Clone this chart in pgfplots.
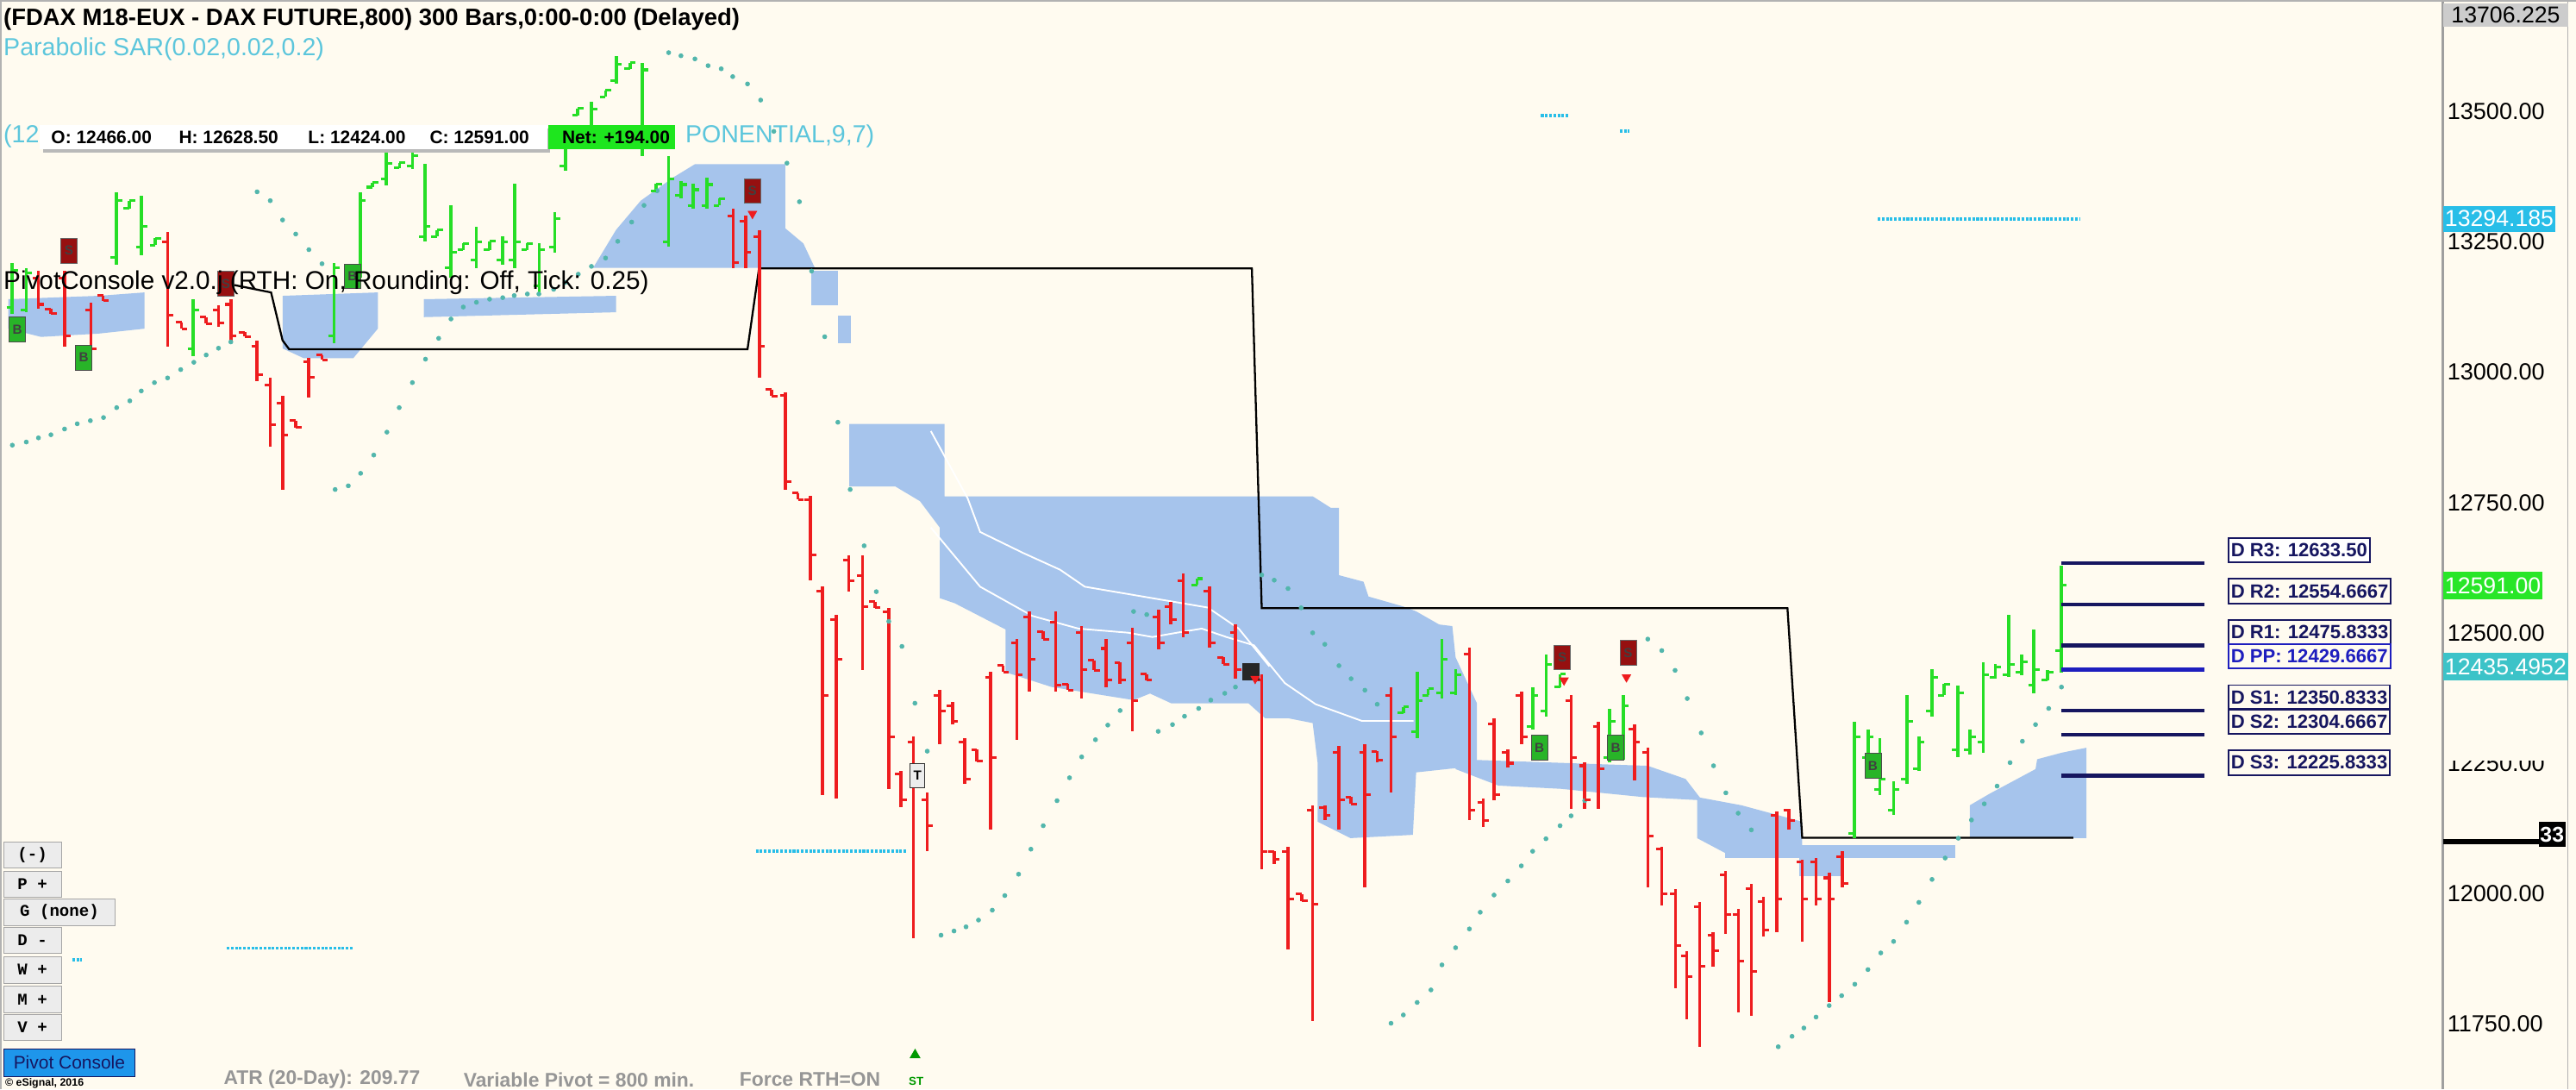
\documentclass[border=0pt]{standalone}
\usepackage{pgfplots}
\pgfplotsset{compat=1.18}
\usepackage{pgfplotstable}
\usepackage{fontspec}
\setmainfont{Liberation Sans}
\setmonofont{Liberation Mono}

\definecolor{bgc}{RGB}{255,251,240}
\definecolor{cloud}{RGB}{166,196,236}
\definecolor{barred}{RGB}{238,28,30}
\definecolor{bargreen}{RGB}{38,222,38}
\definecolor{sardot}{RGB}{82,182,172}
\definecolor{cyanseg}{RGB}{40,190,232}
\definecolor{navyl}{RGB}{22,22,96}
\definecolor{ppblue}{RGB}{30,30,190}
\definecolor{hdrcyan}{RGB}{92,198,220}
\definecolor{sred}{RGB}{150,16,16}
\definecolor{bgreen}{RGB}{40,180,40}
\definecolor{btn}{RGB}{236,236,236}
\definecolor{atrgray}{RGB}{150,150,150}
\definecolor{netgreen}{RGB}{30,230,30}
\definecolor{lblgreen}{RGB}{40,230,40}
\definecolor{lblteal}{RGB}{60,195,200}
\definecolor{pcblue}{RGB}{30,150,235}

\pgfdeclareplotmark{otick}{\pgfpathmoveto{\pgfqpoint{-3.5pt}{0pt}}\pgfpathlineto{\pgfqpoint{0pt}{0pt}}\pgfusepathqstroke}
\pgfdeclareplotmark{ctick}{\pgfpathmoveto{\pgfqpoint{0pt}{0pt}}\pgfpathlineto{\pgfqpoint{3.5pt}{0pt}}\pgfusepathqstroke}

\pgfplotstableread{
x h l o c
7.5 13210 13112 13125 13195
16 13200 13115 13120 13190
70.8 13345 13206 13220 13330
78.7 13329 13314 13314 13329
86.2 13339 13225 13240 13280
94.6 13257 13244 13244 13257
117.7 13140 13030 13045 13120
203.3 13210 13055 13070 13200
219.2 13345 13181 13190 13330
226.7 13364 13355 13355 13364
235.2 13424 13358 13370 13400
243.2 13402 13392 13392 13402
251 13424 13389 13395 13415
258.6 13399 13251 13260 13280
266 13273 13260 13260 13273
274.5 13320 13181 13200 13230
282 13247 13235 13235 13247
290 13279 13200 13215 13250
298 13251 13235 13235 13251
305.8 13260 13206 13215 13250
313.3 13361 13200 13215 13250
320.8 13247 13235 13235 13247
328.3 13247 13153 13165 13235
337.6 13307 13229 13240 13295
344.2 13462 13386 13395 13450
351.7 13506 13493 13493 13506
360 13519 13430 13440 13505
368.6 13541 13528 13528 13541
375.1 13607 13553 13560 13590
383.5 13594 13582 13582 13594
391 13594 13414 13430 13580
399.5 13361 13348 13348 13361
407 13414 13241 13250 13370
414.5 13367 13333 13340 13360
422 13361 13314 13320 13350
430.4 13373 13314 13320 13360
437.9 13333 13320 13320 13333
728.7 12604 12592 12592 12604
854.2 12358 12346 12346 12358
862.6 12425 12298 12310 12370
869.3 12393 12380 12380 12393
877.7 12488 12374 12385 12450
886 12431 12380 12385 12420
932.9 12396 12314 12320 12380
941.2 12459 12339 12350 12440
949.6 12421 12396 12396 12421
979.7 12355 12251 12260 12330
988 12380 12257 12265 12360
1128.7 12330 12106 12115 12300
1137 12314 12242 12260 12300
1144.3 12298 12188 12200 12220
1152.7 12216 12150 12160 12200
1160.7 12380 12210 12220 12330
1168 12302 12235 12240 12290
1176 12431 12339 12350 12415
1183.3 12402 12380 12380 12402
1191.7 12399 12261 12275 12385
1199 12314 12267 12275 12300
1207.3 12443 12270 12290 12420
1214.6 12440 12412 12415 12435
1222.6 12535 12415 12420 12440
1230.6 12459 12418 12425 12445
1238 12507 12384 12400 12430
1246.3 12428 12409 12410 12425
1254.6 12628.5 12424 12466 12591
}\greenbars

\pgfplotstableread{
x h l o c
23.4 13194 13121 13180 13130
31 13121 13112 13121 13112
39.3 13194 13049 13180 13070
55.3 13134 13033 13120 13045
62.8 13147 13137 13147 13137
102 13269 13049 13250 13110
110.5 13096 13083 13096 13083
125.5 13106 13093 13106 13093
133 13128 13087 13120 13095
140.5 13140 13061 13130 13070
149 13077 13068 13077 13068
156.5 13061 12983 13050 12995
164.5 12989 12857 12975 12900
172 12954 12775 12940 12880
180 12907 12894 12907 12894
188 13027 12951 13020 12990
196 13033 13024 13033 13024
446.3 13314 13200 13300 13210
453.8 13301 13200 13290 13230
462.2 13273 12989 13260 13050
469.7 12967 12954 12967 12954
478.2 12961 12775 12955 12790
485.7 12768 12756 12768 12756
493.2 12762 12601 12755 12650
500.7 12589 12188 12580 12380
509.1 12535 12182 12525 12450
516.6 12648 12579 12640 12600
525 12648 12428 12610 12550
532.5 12560 12548 12560 12548
541 12548 12201 12540 12300
548.4 12235 12166 12230 12180
555.9 12302 11914 12290 12240
564.4 12194 12081 12180 12130
572 12390 12286 12380 12350
579.7 12368 12324 12360 12330
587.2 12298 12210 12290 12220
594.7 12276 12254 12276 12254
603.1 12425 12122 12415 12260
610.6 12437 12425 12437 12425
619 12488 12295 12480 12420
626.6 12541 12387 12530 12450
635 12503 12488 12503 12488
642.5 12541 12387 12520 12400
650 12402 12390 12402 12390
658.4 12513 12374 12500 12430
665.9 12447 12428 12447 12428
673.4 12488 12396 12470 12410
681.8 12443 12402 12443 12410
689.3 12510 12311 12480 12370
697.8 12421 12409 12421 12409
705.3 12544 12469 12530 12480
712.7 12560 12516 12550 12525
720.2 12614 12491 12600 12500
736.2 12589 12472 12580 12480
744.6 12453 12440 12453 12440
752.1 12516 12412 12500 12430
768 12421 12046 12410 12080
775.5 12081 12056 12081 12065
784 12090 11892 12080 11990
792.4 11999 11986 11999 11986
799 12169 11756 12160 11980
806.4 12169 12141 12165 12150
814.9 12283 12122 12270 12180
822.4 12185 12172 12185 12172
830.8 12286 12012 12270 12190
838.3 12273 12251 12273 12255
846.7 12396 12194 12380 12300
894.4 12472 12141 12460 12160
902.8 12182 12128 12175 12140
909.4 12336 12179 12325 12190
917.8 12276 12242 12270 12250
926.2 12387 12286 12380 12300
956.3 12380 12163 12370 12260
964.6 12251 12163 12245 12180
973 12330 12163 12320 12240
994.8 12324 12217 12315 12290
1003.1 12280 12012 12270 12110
1011.5 12090 11977 12085 12000
1019.9 12008 11819 12000 11900
1026.6 11889 11759 11880 11840
1034.6 11983 11706 11975 11860
1042.8 11926 11860 11920 11890
1050.4 12043 11923 12035 11960
1058.1 11971 11772 11960 11870
1066.1 12018 11766 12010 11850
1073.4 11993 11917 11985 11930
1081.4 12157 11926 12150 11990
1089 12163 12122 12160 12140
1097 12065 11908 12060 11990
1105.4 12068 11977 12060 11990
1113.4 12040 11791 12030 11990
1121.4 12081 12012 12070 12020
}\redbars

\pgfplotstableread{
x y
7.5 12860
16 12866
23.4 12874
31 12880
39.3 12891
47 12901
55 12907
63 12913
71 12932
79 12945
86 12964
94 12980
102 12989
110 13005
118 13019
125.5 13033
133 13046
140.5 13058
156.5 13346
164.5 13329
172 13292
180 13265
188 13235
196 13208
204 12775
212 12782
219.5 12806
227.5 12841
235.5 12885
243 12932
251 12980
259 13025
267 13065
274.5 13102
282 13125
290 13134
298 13140
306 13143
313 13147
321 13150
328 13150
337 13159
344 13172
352 13188
360 13203
368.6 13219
376 13251
384.5 13288
392 13320
400 13348
407 13613
414.5 13607
423 13601
431 13588
439 13582
446 13567
455 13553
463 13522
471 13462
479 13401
486.6 13327
494 13194
502 13068
510 12904
517.5 12775
526 12667
533.4 12579
541 12522
549 12474
556.9 12365
564.4 12273
572.8 11920
580.7 11928
588 11936
595.6 11949
604 11968
611.6 11996
620 12037
627.5 12085
635 12130
643.4 12178
651 12222
658.4 12262
666.8 12295
674.3 12323
681.8 12351
690 12541
698 12535
705 12311
713.7 12324
721 12340
729.6 12355
737 12371
745.5 12384
752 12396
768 12611
775.6 12601
784 12585
792 12548
799 12500
806.4 12478
815 12437
822.4 12412
830.8 12390
838.3 12363
846.7 11751
854.2 11767
862.6 11791
871 11815
877.7 11863
886 11896
894.4 11932
901 11964
909.4 11997
917.8 12024
926 12053
932.9 12081
941 12105
949.6 12130
956.3 12149
964.6 12178
1003 12488
1011.5 12466
1019.6 12428
1027 12374
1035.5 12308
1043 12245
1050.5 12193
1058 12154
1066 12122
1082.4 11706
1090.8 11726
1098 11742
1105.4 11763
1113.4 11785
1121 11804
1129 11826
1137 11854
1144.8 11886
1152.6 11908
1160.5 11945
1168 11983
1176 12027
1184 12068
1192 12106
1200 12141
1207.8 12172
1215.6 12206
1223.5 12251
1231 12292
1239 12324
1247 12355
1254.8 12396
}\sartable

\begin{document}
\begin{tikzpicture}
\useasboundingbox (0,0) rectangle (1568pt,663pt);
\fill[bgc] (0,0) rectangle (1568pt,663pt);
\begin{axis}[
  at={(0,0)}, anchor=south west,
  width=1487pt, height=663pt, scale only axis,
  xmin=0, xmax=1487, ymin=11624, ymax=13714,
  clip=false,
  axis line style={draw=none},
  xtick=\empty,
  ytick={11750,12000,12250,12500,12750,13000,13250,13500},
  yticklabels={11750.00,12000.00,12250.00,12500.00,12750.00,13000.00,13250.00,13500.00},
  yticklabel pos=right,
  major tick length=0pt,
  ytick style={draw=none},
  yticklabel style={anchor=west, inner sep=0pt, xshift=2.5pt, font=\fontsize{14.2}{14.2}\selectfont},
]
% ---- cloud (shaded bands)
\addplot[fill=cloud, draw=none] coordinates {(5,13140) (60,13146.5) (88,13153) (88,13083.5) (60,13074) (25,13067.7) (5,13083.5)};
\addplot[fill=cloud, draw=none] coordinates {(172,13146.5) (230,13153) (230,13083.5) (215,13026.7) (185,13026.7) (172,13045.6)};
\addplot[fill=cloud, draw=none] coordinates {(258,13140) (375,13146.5) (375,13115) (258,13105.6)};
\addplot[fill=cloud, draw=none] coordinates {(361,13200) (375,13273) (390,13329) (410,13374) (423,13399) (478,13399) (478,13276) (489,13247) (496,13200)};
\addplot[fill=cloud, draw=none] coordinates {(494,13194) (510,13194) (510,13127.6) (494,13127.6)};
\addplot[fill=cloud, draw=none] coordinates {(510,13108.7) (518,13108.7) (518,13055) (510,13055)};
\addplot[fill=cloud, draw=none] coordinates {(517,12900.6) (575,12900.6) (575,12761.9) (799,12761.9) (810,12739.9) (815,12739.9) (815,12610.6) (830,12598) (833,12569.6) (854,12550.7) (862,12541.2) (876,12516) (884,12512.9) (886,12453) (899,12364.7) (899,12244.9) (862,12232.3) (860,12112.5) (822,12106.2) (802,12137.7) (802,12251.2) (799,12326.9) (784,12336.3) (770,12336.3) (760,12364.7) (713,12364.7) (700,12383.6) (690,12371) (640,12396.2) (612,12424.6) (612,12506.6) (581,12557) (572,12566.5) (572,12702) (560,12752.5) (545,12780.8) (517,12780.8)};
\addplot[fill=cloud, draw=none] coordinates {(886,12257.5) (1003,12244.9) (1026,12219.7) (1036,12178.7) (1000,12185) (950,12200.8) (912,12207) (886,12238.6)};
\addplot[fill=cloud, draw=none] coordinates {(1033,12185) (1060,12169.2) (1097,12137.7) (1097,12077.8) (1050,12077.8) (1033,12106.2)};
\addplot[fill=cloud, draw=none] coordinates {(1050,12093.6) (1190,12093.6) (1190,12068.3) (1050,12068.3)};
\addplot[fill=cloud, draw=none] coordinates {(1095,12074.6) (1121,12074.6) (1121,12033.7) (1095,12033.7)};
\addplot[fill=cloud, draw=none] coordinates {(1199,12169.2) (1211,12191.3) (1239,12238.6) (1240,12257.5) (1255,12270.1) (1270,12279.6) (1270,12106.2) (1199,12106.2)};
\addplot[white, line width=1pt] coordinates {(566.6,12702) (596.6,12588.5) (628.4,12532.4) (656.5,12508.1) (686.5,12500.3) (701.5,12492) (716.5,12500.3) (731.5,12508.1) (746.5,12492) (763.3,12476) (782.1,12403.5) (800.8,12363.1) (829,12331) (860.4,12331)};
\addplot[white, line width=1pt] coordinates {(566.6,12887) (589,12758.1) (596.6,12693.5) (622.8,12653.2) (645.3,12621) (660.3,12588.5) (735.2,12548.5) (754,12508.1) (772.7,12435.6)};
% ---- pivot step line
\addplot[black, line width=1.2pt] coordinates {(135,13172) (165,13153) (172,13061) (176,13044) (455,13044) (462,13199) (762,13199) (768,12547.5) (1088,12547.5) (1097,12106.8) (1262,12106.8)};
% ---- cyan dotted levels
\addplot[cyanseg, line width=2pt, dash pattern=on 1.6pt off 0.9pt] coordinates {(1143,13294.185) (1266,13294.185)};
\addplot[cyanseg, line width=2pt, dash pattern=on 1.6pt off 0.9pt] coordinates {(938,13491.7) (955,13491.7)};
\addplot[cyanseg, line width=2pt, dash pattern=on 1.6pt off 0.9pt] coordinates {(986,13462) (992,13462)};
\addplot[cyanseg, line width=2pt, dash pattern=on 1.6pt off 0.9pt] coordinates {(460,12081) (552,12081)};
\addplot[cyanseg, line width=2pt, dash pattern=on 1.6pt off 0.9pt] coordinates {(138,11895) (215,11895)};
\addplot[cyanseg, line width=2pt, dash pattern=on 1.6pt off 0.9pt] coordinates {(44,11873) (50,11873)};
% ---- parabolic SAR
\addplot[only marks, mark=*, mark size=1.25pt, sardot] table[x=x,y=y] {\sartable};
% ---- OHLC bars
\addplot[barred, only marks, mark=otick, mark options={line width=1.6pt},
  error bars/.cd, y dir=both, y explicit, error mark=none, error bar style={line width=1.9pt, barred}]
  table[x=x, y=o, y error plus expr=\thisrow{h}-\thisrow{o}, y error minus expr=\thisrow{o}-\thisrow{l}] {\redbars};
\addplot[barred, only marks, mark=ctick, mark options={line width=1.6pt}] table[x=x, y=c] {\redbars};
\addplot[bargreen, only marks, mark=otick, mark options={line width=1.6pt},
  error bars/.cd, y dir=both, y explicit, error mark=none, error bar style={line width=1.9pt, bargreen}]
  table[x=x, y=o, y error plus expr=\thisrow{h}-\thisrow{o}, y error minus expr=\thisrow{o}-\thisrow{l}] {\greenbars};
\addplot[bargreen, only marks, mark=ctick, mark options={line width=1.6pt}] table[x=x, y=c] {\greenbars};
% ---- daily pivot levels
\addplot[navyl, line width=2.3pt] coordinates {(1254.6,12633.5) (1342,12633.5)};
\addplot[navyl, line width=2.3pt] coordinates {(1254.6,12554.6667) (1342,12554.6667)};
\addplot[navyl, line width=2.3pt] coordinates {(1254.6,12475.8333) (1342,12475.8333)};
\addplot[ppblue, line width=2.3pt] coordinates {(1254.6,12429.6667) (1342,12429.6667)};
\addplot[navyl, line width=2.3pt] coordinates {(1254.6,12350.8333) (1342,12350.8333)};
\addplot[navyl, line width=2.3pt] coordinates {(1254.6,12304.6667) (1342,12304.6667)};
\addplot[navyl, line width=2.3pt] coordinates {(1254.6,12225.8333) (1342,12225.8333)};
\node[anchor=south west, draw=navyl, line width=1pt, fill=white, text=navyl, inner sep=1.5pt, minimum height=15pt, font=\bfseries\fontsize{11.6}{11.6}\selectfont] at (axis cs:1356,12633.5) {D R3: 12633.50};
\node[anchor=south west, draw=navyl, line width=1pt, text=navyl, inner sep=1.5pt, minimum height=15pt, font=\bfseries\fontsize{11.6}{11.6}\selectfont] at (axis cs:1356,12554.6667) {D R2: 12554.6667};
\node[anchor=south west, draw=navyl, line width=1pt, text=navyl, inner sep=1.5pt, minimum height=15pt, font=\bfseries\fontsize{11.6}{11.6}\selectfont] at (axis cs:1356,12475.8333) {D R1: 12475.8333};
\node[anchor=south west, draw=ppblue, line width=1pt, text=ppblue, inner sep=1.5pt, minimum height=15pt, font=\bfseries\fontsize{11.6}{11.6}\selectfont] at (axis cs:1356,12429.6667) {D PP: 12429.6667};
\node[anchor=south west, draw=navyl, line width=1pt, text=navyl, inner sep=1.5pt, minimum height=15pt, font=\bfseries\fontsize{11.6}{11.6}\selectfont] at (axis cs:1356,12350.8333) {D S1: 12350.8333};
\node[anchor=south west, draw=navyl, line width=1pt, text=navyl, inner sep=1.5pt, minimum height=15pt, font=\bfseries\fontsize{11.6}{11.6}\selectfont] at (axis cs:1356,12304.6667) {D S2: 12304.6667};
\node[anchor=south west, draw=navyl, line width=1pt, text=navyl, inner sep=1.5pt, minimum height=15pt, font=\bfseries\fontsize{11.6}{11.6}\selectfont] at (axis cs:1356,12225.8333) {D S3: 12225.8333};
% ---- signal markers
\addplot[only marks, mark=none, nodes near coords={S}, every node near coord/.style={anchor=center, fill=sred, draw=black!60, inner sep=0pt, minimum width=10pt, minimum height=15pt, font=\fontsize{8}{8}\selectfont\bfseries, text=black!75}] coordinates {(42,13233) (458,13348) (951,12453) (991,12462) (137.5,13170)};
\addplot[only marks, mark=none, nodes near coords={B}, every node near coord/.style={anchor=center, fill=bgreen, draw=black!70, inner sep=0pt, minimum width=10pt, minimum height=15pt, font=\fontsize{8}{8}\selectfont\bfseries, text=black!75}] coordinates {(10.5,13082) (51,13028) (214.5,13184) (937,12280) (983.5,12280) (1140,12245)};
\addplot[only marks, mark=none, nodes near coords={T}, every node near coord/.style={anchor=center, fill=white!85!gray, draw=black!80, inner sep=0pt, minimum width=9pt, minimum height=15pt, font=\fontsize{8}{8}\selectfont\bfseries, text=black}] coordinates {(558.5,12226)};
\addplot[only marks, mark=square*, mark size=5pt, black!85] coordinates {(761.5,12425)};
\addplot[only marks, mark=triangle*, mark size=3pt, barred, mark options={rotate=180}] coordinates {(458,13304) (952,12409) (990,12415) (764,12412)};
\addplot[only marks, mark=triangle*, mark size=3.5pt, black!40!green] coordinates {(557,11690)};
% ---- anchors for the price-scale flags
\coordinate (lc) at (axis cs:1487,13294.185);
\coordinate (lg) at (axis cs:1487,12591);
\coordinate (lt) at (axis cs:1487,12435.4952);
\coordinate (lb) at (axis cs:1487,12106.8);
\end{axis}
% ---- frame lines
\draw[gray!75, line width=1.3pt] (1487pt,0) -- (1487pt,663pt);
\draw[gray!60, line width=1pt] (0,662.5pt) -- (1568pt,662.5pt);
\draw[gray!60, line width=1pt] (0.6pt,0) -- (0.6pt,663pt);
\draw[gray!60, line width=1pt] (1563pt,0) -- (1563pt,663pt);
% ---- price scale flags
\fill[bgc] (1488pt,200pt) rectangle (1562pt,215pt);
\node[anchor=north west, fill=gray!40, inner sep=1pt, minimum width=76pt, minimum height=14pt, font=\fontsize{14}{14}\selectfont] at (1487pt,661pt) {13706.225};
\node[anchor=west, fill=cyanseg, text=white, inner sep=1pt, minimum height=16pt, font=\fontsize{14}{14}\selectfont] at (lc) {13294.185};
\node[anchor=west, fill=lblgreen, text=white, inner sep=1pt, minimum height=17pt, font=\fontsize{14}{14}\selectfont] at (lg) {12591.00};
\node[anchor=west, fill=lblteal, text=white, inner sep=1pt, minimum height=17pt, font=\fontsize{14}{14}\selectfont] at (lt) {12435.4952};
\fill[black] ([yshift=-4pt]lb) rectangle ([xshift=60pt,yshift=-1pt]lb);
\node[anchor=west, fill=black, text=white, inner sep=1pt, minimum height=15pt, font=\bfseries\fontsize{13}{13}\selectfont] at ([xshift=58pt,yshift=2pt]lb) {33};
% ---- header texts
\node[anchor=west, inner sep=0pt, font=\bfseries\fontsize{14.4}{14.4}\selectfont] at (2pt,651pt) {(FDAX M18-EUX - DAX FUTURE,800) 300 Bars,0:00-0:00 (Delayed)};
\node[anchor=west, inner sep=0pt, text=hdrcyan, font=\fontsize{15}{15}\selectfont] at (2pt,633pt) {Parabolic SAR(0.02,0.02,0.2)};
\node[anchor=west, inner sep=0pt, text=hdrcyan, font=\fontsize{15}{15}\selectfont] at (2pt,580pt) {(12};
\node[anchor=west, inner sep=0pt, text=hdrcyan, font=\fontsize{15}{15}\selectfont] at (417pt,580pt) {PONENTIAL,9,7)};
\fill[gray!55] (26pt,570pt) rectangle (335pt,585pt);
\fill[white] (24pt,572pt) rectangle (333pt,587pt);
\fill[netgreen] (334pt,572pt) rectangle (411pt,587pt);
\node[anchor=west, inner sep=0pt, font=\bfseries\fontsize{11}{11}\selectfont] at (31pt,579.5pt) {O: 12466.00};
\node[anchor=west, inner sep=0pt, font=\bfseries\fontsize{11}{11}\selectfont] at (108.7pt,579.5pt) {H: 12628.50};
\node[anchor=west, inner sep=0pt, font=\bfseries\fontsize{11}{11}\selectfont] at (187.4pt,579.5pt) {L: 12424.00};
\node[anchor=west, inner sep=0pt, font=\bfseries\fontsize{11}{11}\selectfont] at (261.4pt,579.5pt) {C: 12591.00};
\node[anchor=west, inner sep=0pt, font=\bfseries\fontsize{11}{11}\selectfont] at (342pt,579.5pt) {Net: +194.00};
\node[anchor=west, inner sep=0pt, font=\fontsize{15.6}{15.6}\selectfont] at (2pt,491pt) {PivotConsole v2.0.j (RTH: On, Rounding: Off, Tick: 0.25)};
% ---- console buttons
\node[anchor=north west, draw=gray!70, fill=btn, minimum width=35pt, minimum height=16pt, inner sep=0pt, font=\ttfamily\bfseries\fontsize{10}{10}\selectfont] at (2pt,151pt) {(-)};
\node[anchor=north west, draw=gray!70, fill=btn, minimum width=35pt, minimum height=16pt, inner sep=0pt, font=\ttfamily\bfseries\fontsize{10}{10}\selectfont] at (2pt,133pt) {P +};
\node[anchor=north west, draw=gray!70, fill=btn, minimum width=68pt, minimum height=16pt, inner sep=0pt, font=\ttfamily\bfseries\fontsize{10}{10}\selectfont] at (2pt,116pt) {G (none)};
\node[anchor=north west, draw=gray!70, fill=btn, minimum width=35pt, minimum height=16pt, inner sep=0pt, font=\ttfamily\bfseries\fontsize{10}{10}\selectfont] at (2pt,99pt) {D -};
\node[anchor=north west, draw=gray!70, fill=btn, minimum width=35pt, minimum height=16pt, inner sep=0pt, font=\ttfamily\bfseries\fontsize{10}{10}\selectfont] at (2pt,81pt) {W +};
\node[anchor=north west, draw=gray!70, fill=btn, minimum width=35pt, minimum height=16pt, inner sep=0pt, font=\ttfamily\bfseries\fontsize{10}{10}\selectfont] at (2pt,63pt) {M +};
\node[anchor=north west, draw=gray!70, fill=btn, minimum width=35pt, minimum height=16pt, inner sep=0pt, font=\ttfamily\bfseries\fontsize{10}{10}\selectfont] at (2pt,46pt) {V +};
\node[anchor=north west, draw=navyl, fill=pcblue, text=navyl, minimum width=80pt, minimum height=17pt, inner sep=0pt, font=\fontsize{11}{11}\selectfont] at (2pt,25pt) {Pivot Console};
\node[anchor=west, inner sep=0pt, font=\bfseries\fontsize{6.5}{6.5}\selectfont] at (3pt,3.5pt) {\textcopyright\ eSignal, 2016};
% ---- footer
\node[anchor=west, inner sep=0pt, text=atrgray, font=\bfseries\fontsize{12}{12}\selectfont] at (136pt,6pt) {ATR (20-Day): 209.77};
\node[anchor=west, inner sep=0pt, text=atrgray, font=\bfseries\fontsize{12}{12}\selectfont] at (282pt,6pt) {Variable Pivot = 800 min.};
\node[anchor=west, inner sep=0pt, text=atrgray, font=\bfseries\fontsize{12}{12}\selectfont] at (450pt,6pt) {Force RTH=ON};
\node[anchor=west, inner sep=0pt, text=black!40!green, font=\bfseries\fontsize{7}{7}\selectfont] at (553pt,5pt) {ST};
\end{tikzpicture}
\end{document}
